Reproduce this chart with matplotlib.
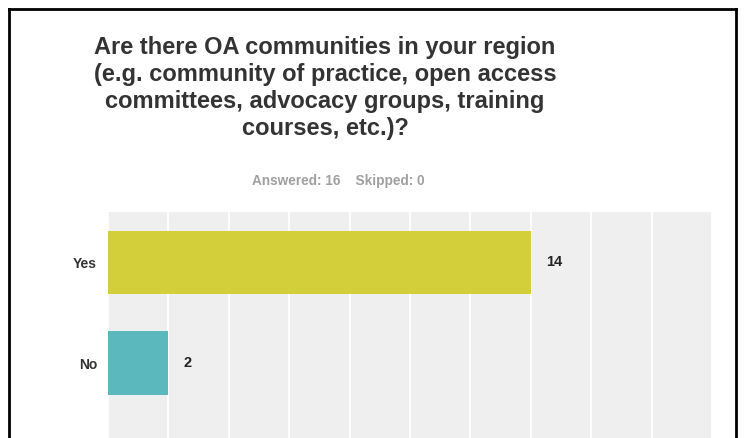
import matplotlib.pyplot as plt

# answers and counts
answers = ["Yes", "No"]
counts = [14, 2]
bar_colors = ["#d3cf3a", "#5bb9bd"]
x_ticks = list(range(0, 21, 2))

title = ("Are there OA communities in your region\n"
         "(e.g. community of practice, open access\n"
         "committees, advocacy groups, training\n"
         "courses, etc.)?")
subtitle = "Answered: 16    Skipped: 0"

plt.rcParams['font.family'] = ['Liberation Sans', 'DejaVu Sans']

fig = plt.figure(figsize=(7.44, 4.38), dpi=100)
W, H = 744, 438

# plot area in pixel coords: left 108, right 712, top 212, bottom cut at 438
ax = fig.add_axes([108 / W, 0, (712 - 108) / W, (438 - 212) / H])
ax.set_facecolor("#efefef")

pos = list(range(len(answers)))
ax.barh(pos, counts, height=0.63, color=bar_colors, zorder=3)

ax.set_xlim(0, 20)
ax.set_ylim(1.746, -0.502)
ax.set_xticks(x_ticks)
ax.xaxis.grid(True, color="white", linewidth=1.3, zorder=1)
ax.tick_params(axis="x", length=0, labelbottom=False)
ax.set_yticks(pos)
ax.set_yticklabels(answers, fontsize=10, fontweight="bold", color="#333333")
ax.tick_params(axis="y", length=0, pad=8)
for s in ax.spines.values():
    s.set_visible(False)

for p, c in zip(pos, counts):
    ax.annotate(str(c), (c, p), xytext=(11, 0), textcoords="offset points",
                va="center", ha="left", fontsize=10.5, fontweight="bold", color="#222222")

fig.text(325 / W, 1 - 36 / H, title, ha="center", va="top", fontsize=17,
         fontweight="bold", color="#333333", linespacing=1.22)
fig.text(338 / W, 1 - 181 / H, subtitle, ha="center", va="center", fontsize=9.8,
         fontweight="bold", color="#a0a0a0")

# black frame around the screenshot (open at the bottom)
fig.add_artist(plt.Line2D([9 / W, 9 / W], [0, 1 - 9 / H], color="black", lw=2,
                          transform=fig.transFigure))
fig.add_artist(plt.Line2D([9 / W, 736 / W], [1 - 9 / H, 1 - 9 / H], color="black", lw=2,
                          transform=fig.transFigure))
fig.add_artist(plt.Line2D([736 / W, 736 / W], [0, 1 - 9 / H], color="black", lw=2,
                          transform=fig.transFigure))

fig.savefig("out.png", dpi=100, facecolor="white")
